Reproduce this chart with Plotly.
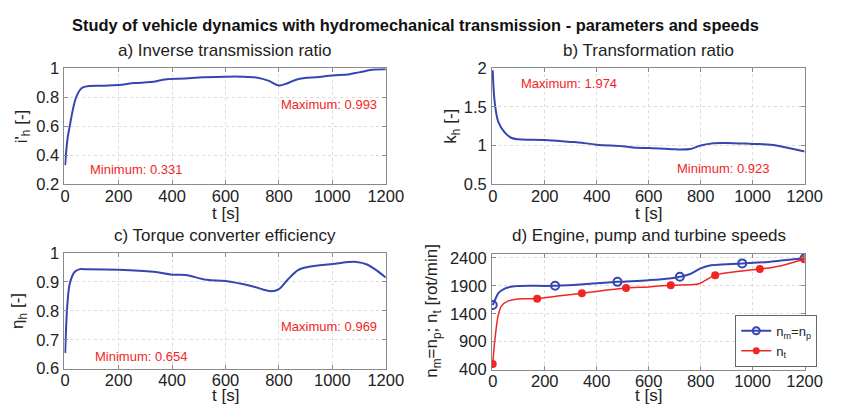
import plotly.graph_objects as go

# ---- a) inverse transmission ratio ----
t_a = [0, 5, 10, 17, 25, 33, 41, 55, 66, 90, 150, 200, 260, 320, 380, 450, 500, 600,
       660, 720, 760, 800, 830, 870, 950, 1000, 1060, 1100, 1150, 1200]
i_h = [0.331, 0.45, 0.53, 0.60, 0.68, 0.75, 0.80, 0.85, 0.868, 0.878, 0.880, 0.884,
       0.898, 0.905, 0.925, 0.929, 0.937, 0.942, 0.942, 0.935, 0.915, 0.882, 0.895,
       0.925, 0.940, 0.951, 0.958, 0.972, 0.990, 0.993]

# ---- b) transformation ratio ----
t_b = [0, 4, 9, 21, 46, 71, 100, 200, 300, 330, 400, 500, 550, 600, 700, 760, 800,
       850, 900, 1000, 1070, 1120, 1200]
k_h = [1.974, 1.70, 1.52, 1.31, 1.17, 1.10, 1.08, 1.07, 1.046, 1.04, 1.01, 0.99,
       0.97, 0.967, 0.95, 0.955, 1.0, 1.03, 1.033, 1.02, 1.01, 0.98, 0.923]

# ---- c) torque converter efficiency ----
t_c = [0, 8, 18, 36, 55, 70, 200, 330, 400, 450, 530, 600, 700, 770, 800, 830, 870,
       900, 1000, 1090, 1130, 1160, 1200]
eta_h = [0.654, 0.819, 0.897, 0.935, 0.944, 0.944, 0.942, 0.935, 0.925, 0.924, 0.907,
         0.903, 0.885, 0.868, 0.875, 0.905, 0.940, 0.950, 0.962, 0.969, 0.960, 0.943, 0.915]

# ---- d) engine / pump speed and turbine speed ----
t_m = [0, 9, 21, 46, 83, 240, 400, 480, 600, 680, 720, 760, 800, 840, 900, 960,
       1060, 1120, 1200]
n_m = [1555, 1650, 1765, 1850, 1890, 1900, 1945, 1970, 2000, 2030, 2060, 2110, 2210,
       2265, 2285, 2300, 2325, 2355, 2390]
t_m_marks = [0, 240, 480, 720, 960, 1200]

t_t = [0, 9, 21, 34, 58, 96, 171, 250, 343, 420, 513, 600, 685, 760, 790, 820, 856,
       950, 1028, 1100, 1200]
n_t = [503, 963, 1365, 1540, 1625, 1665, 1670, 1715, 1768, 1810, 1860, 1880, 1910,
       1920, 1930, 2000, 2090, 2160, 2200, 2250, 2380]
t_t_marks = [0, 171, 343, 513, 685, 856, 1028, 1200]

x_ticks = [0, 200, 400, 600, 800, 1000, 1200]

BLUE = "#3646b0"
RED = "#f22525"
FONT = "Liberation Sans, Arial, sans-serif"
W, H = 845, 415


def px(x):
    return x / W


def py(y):
    return 1 - y / H


fig = go.Figure()

# panel boxes (left, right, top, bottom) in pixels
panels = {
    1: (62, 392, 62, 183),
    2: (501, 822, 62, 183),
    3: (62, 392, 255, 376),
    4: (501, 822, 256, 377),
}

fig.add_trace(go.Scatter(x=t_a, y=i_h, mode="lines", line=dict(color=BLUE, width=2, shape="spline"),
                         xaxis="x", yaxis="y", showlegend=False))
fig.add_trace(go.Scatter(x=t_b, y=k_h, mode="lines", line=dict(color=BLUE, width=2, shape="spline"),
                         xaxis="x2", yaxis="y2", showlegend=False))
fig.add_trace(go.Scatter(x=t_c, y=eta_h, mode="lines", line=dict(color=BLUE, width=2, shape="spline"),
                         xaxis="x3", yaxis="y3", showlegend=False))

# speeds: lines, then markers at sampled instants
fig.add_trace(go.Scatter(x=t_m, y=n_m, mode="lines", line=dict(color=BLUE, width=2, shape="spline"),
                         xaxis="x4", yaxis="y4", showlegend=False))
fig.add_trace(go.Scatter(x=t_t, y=n_t, mode="lines", line=dict(color=RED, width=1.5, shape="spline"),
                         xaxis="x4", yaxis="y4", showlegend=False))
fig.add_trace(go.Scatter(x=t_m_marks, y=[n_m[t_m.index(t)] for t in t_m_marks], mode="markers",
                         marker=dict(symbol="circle-open", color=BLUE, size=8, line=dict(width=2)),
                         xaxis="x4", yaxis="y4", showlegend=False))
fig.add_trace(go.Scatter(x=t_t_marks, y=[n_t[t_t.index(t)] for t in t_t_marks], mode="markers",
                         marker=dict(symbol="circle", color=RED, size=8),
                         xaxis="x4", yaxis="y4", showlegend=False))
# legend entries
fig.add_trace(go.Scatter(x=[None], y=[None], mode="lines+markers", name="n<sub>m</sub>=n<sub>p</sub>",
                         line=dict(color=BLUE, width=2),
                         marker=dict(symbol="circle-open", color=BLUE, size=7, line=dict(width=2)),
                         xaxis="x4", yaxis="y4"))
fig.add_trace(go.Scatter(x=[None], y=[None], mode="lines+markers", name="n<sub>t</sub>",
                         line=dict(color=RED, width=1.5),
                         marker=dict(symbol="circle", color=RED, size=7),
                         xaxis="x4", yaxis="y4"))

axis_common = dict(
    showline=True, mirror="allticks", linecolor="#8a8a8a", linewidth=1,
    ticks="inside", ticklen=4, tickcolor="#8a8a8a",
    showgrid=True, gridcolor="#dcdcdc", griddash="dot", gridwidth=1,
    zeroline=False, tickfont=dict(family=FONT, size=16.5, color="#222"),
)

y_specs = {
    1: ([0.2, 1.0], [0.2, 0.4, 0.6, 0.8, 1.0], ["0.2", "0.4", "0.6", "0.8", "1"]),
    2: ([0.5, 2.0], [0.5, 1.0, 1.5, 2.0], ["0.5", "1", "1.5", "2"]),
    3: ([0.6, 1.0], [0.6, 0.7, 0.8, 0.9, 1.0], ["0.6", "0.7", "0.8", "0.9", "1"]),
    4: ([400, 2470], [400, 900, 1400, 1900, 2400], ["400", "900", "1400", "1900", "2400"]),
}

layout_axes = {}
for k, (l, r, t, b) in panels.items():
    sfx = "" if k == 1 else str(k)
    yr, yv, yt = y_specs[k]
    layout_axes["xaxis" + sfx] = dict(axis_common, domain=[px(l), px(r)], range=[-3, 1200],
                                      tickvals=x_ticks, ticktext=[str(v) for v in x_ticks],
                                      anchor="y" + sfx, ticklabelstandoff=-3)
    layout_axes["yaxis" + sfx] = dict(axis_common, domain=[py(b), py(t)], range=yr,
                                      tickvals=yv, ticktext=yt, anchor="x" + sfx,
                                      ticklabelstandoff=1)

fig.update_layout(**layout_axes)

ann = []


def text(x, y, s, size=17, angle=0, bold=False, color="#222"):
    ann.append(dict(x=px(x), y=py(y), xref="paper", yref="paper", text=("<b>%s</b>" % s) if bold else s,
                    showarrow=False, textangle=angle, xanchor="center", yanchor="middle",
                    font=dict(family=FONT, size=size, color=color)))


text(422, 17, "Study of vehicle dynamics with hydromechanical transmission - parameters and speeds",
     size=16.4, bold=True, color="#111")
text(227, 43, "a) Inverse transmission ratio")
text(662, 43, "b) Transformation ratio")
text(227, 237, "c) Torque converter efficiency")
text(662, 237, "d) Engine, pump and turbine speeds")
for xc in (227, 662):
    text(xc, 214, "t [s]", size=17)
    text(xc, 404, "t [s]", size=17)
text(19, 123, "i'<sub>h</sub> [-]", angle=-90, size=17)
text(460, 123, "k<sub>h</sub> [-]", angle=-90, size=17)
text(16, 316, "η<sub>h</sub> [-]", angle=-90, size=17)
text(441, 316, "n<sub>m</sub>=n<sub>p</sub>; n<sub>t</sub> [rot/min]", angle=-90, size=17)


# min / max labels in data coordinates
def note(axis, x, y, s):
    sfx = "" if axis == 1 else str(axis)
    ann.append(dict(x=x, y=y, xref="x" + sfx, yref="y" + sfx, text=s, showarrow=False,
                    xanchor="left", yanchor="middle", font=dict(family=FONT, size=13, color=RED)))


note(1, 800, 0.749, "Maximum: %.3f" % max(i_h))
note(1, 85, 0.304, "Minimum: %.3f" % min(i_h))
note(2, 102, 1.80, "Maximum: %.3f" % max(k_h))
note(2, 701, 0.70, "Minimum: %.3f" % min(k_h))
note(3, 800, 0.745, "Maximum: %.3f" % max(eta_h))
note(3, 103, 0.643, "Minimum: %.3f" % min(eta_h))

fig.update_layout(
    width=W, height=H, margin=dict(l=0, r=0, t=0, b=0),
    paper_bgcolor="white", plot_bgcolor="white",
    annotations=ann,
    legend=dict(x=px(835), y=py(374), xanchor="right", yanchor="bottom",
                bgcolor="white", bordercolor="#666", borderwidth=1,
                font=dict(family=FONT, size=13, color="#222"),
                itemwidth=30, tracegroupgap=0),
)

fig.write_html("out.html")
